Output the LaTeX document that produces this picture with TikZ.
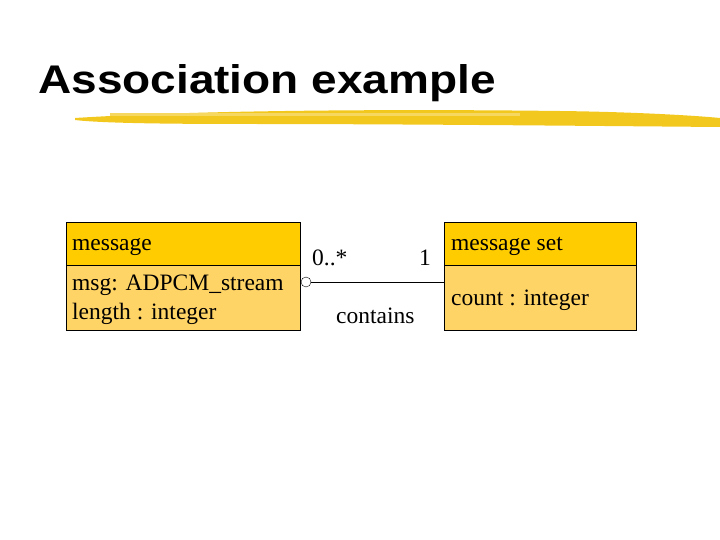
\documentclass[tikz,border=0pt]{standalone}
\usepackage{fontspec}
\setmainfont{Liberation Serif}
\newfontfamily\titlefont{Liberation Sans}
\begin{document}
\begin{tikzpicture}[x=1pt,y=-1pt,
  top/.style={draw=black,fill=topc,line width=0.6pt},
  bot/.style={draw=black,fill=botc,line width=0.6pt},
  txt/.style={font=\fontsize{23.5}{26}\selectfont,anchor=base west,inner sep=0}]
\definecolor{topc}{HTML}{FFCC00}
\definecolor{botc}{HTML}{FFD466}
\definecolor{brush}{HTML}{F2C81E}
\useasboundingbox (0,0) rectangle (720,540);
\node[font=\titlefont\bfseries\fontsize{40}{44}\selectfont,anchor=base west,inner sep=0,xscale=1.15] (title) at (38,94) {Association example};
\fill[brush] (75,118) .. controls (200,110) and (400,109) .. (560,111) .. controls (640,112) and (700,116) .. (720,118)
  -- (720,127) .. controls (600,126) and (400,124) .. (250,124) .. controls (160,124) and (100,123) .. (75,120) -- cycle;
\fill[brush!70!white] (110,113) rectangle (520,116);
% left class
\draw[top] (66,222) rectangle (300,265);
\draw[bot] (66,265) rectangle (300,330);
\node[txt] (m) at (72,251) {message};
\node[txt] (m1) at (72,290) {msg: ADPCM\_stream};
\node[txt] (m2) at (72,319) {length : integer};
% right class
\draw[top] (444,222) rectangle (636,265);
\draw[bot] (444,265) rectangle (636,330);
\node[txt] (s) at (451,251) {message set};
\node[txt] (s1) at (451,305) {count : integer};
% association
\node[circle,draw,fill=white,inner sep=0,minimum size=10pt] (c) at (306,282) {};
\coordinate (r) at (444,282);
\draw[line width=0.6pt] (c) -- (r);
\node[txt] (l1) at (312,265) {0..*};
\node[txt] (l2) at (419,265) {1};
\node[txt] (l3) at (336,323) {contains};
\end{tikzpicture}
\end{document}
